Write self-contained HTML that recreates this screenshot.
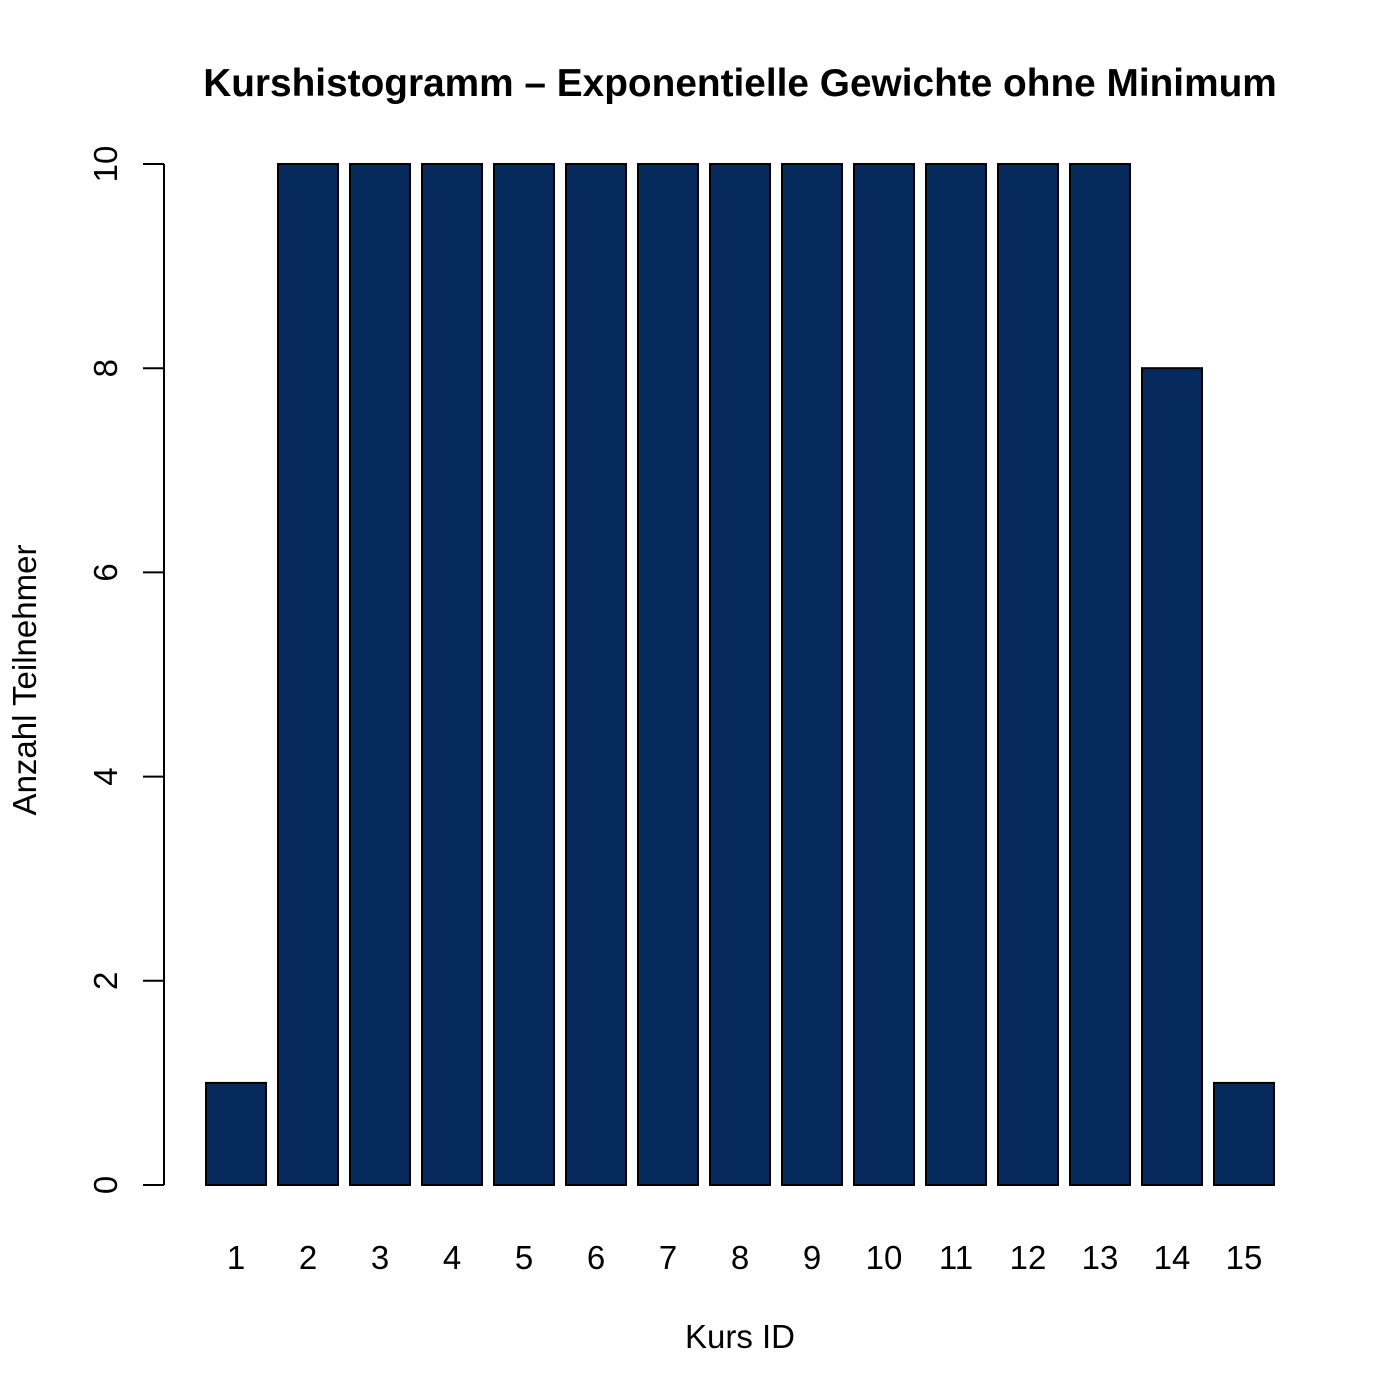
<!DOCTYPE html>
<html><head><meta charset="utf-8"><style>body{margin:0;background:#fff}svg{display:block}text{font-family:"Liberation Sans",sans-serif;fill:#000}</style></head>
<body>
<svg id="chart" width="1400" height="1400" viewBox="0 0 1400 1400">
<rect width="1400" height="1400" fill="#fff"/>
<text x="740" y="96" font-size="38.8" font-weight="bold" text-anchor="middle">Kurshistogramm – Exponentielle Gewichte ohne Minimum</text>
<text x="740" y="1348" font-size="33" text-anchor="middle">Kurs ID</text>
<text transform="translate(36,680) rotate(-90)" font-size="33" text-anchor="middle">Anzahl Teilnehmer</text>
<g id="bars"></g><g id="yaxis"></g><g id="xlabels"></g>
</svg>
<script>
const categories=["1","2","3","4","5","6","7","8","9","10","11","12","13","14","15"];
const values=[1,10,10,10,10,10,10,10,10,10,10,10,10,8,1];
const yTicks=[0,2,4,6,8,10];
const NS="http://www.w3.org/2000/svg";
function y(v){return 1185-v*102.1;}
function xLeft(i){return 206+72*i;}
const bw=60;
const bars=document.getElementById('bars');
values.forEach((v,i)=>{
 const r=document.createElementNS(NS,'rect');
 r.setAttribute('x',xLeft(i));r.setAttribute('y',y(v));r.setAttribute('width',bw);r.setAttribute('height',y(0)-y(v));
 r.setAttribute('fill','#062a5c');r.setAttribute('stroke','#000');r.setAttribute('stroke-width','2');
 
 
 bars.appendChild(r);
 const t=document.createElementNS(NS,'text');
 t.setAttribute('x',xLeft(i)+bw/2);t.setAttribute('y',1269);t.setAttribute('font-size','33');t.setAttribute('text-anchor','middle');
 t.textContent=categories[i];
 
 
 document.getElementById('xlabels').appendChild(t);
});
const ya=document.getElementById('yaxis');
const ln=document.createElementNS(NS,'line');
ln.setAttribute('x1',164);ln.setAttribute('x2',164);ln.setAttribute('y1',y(yTicks[yTicks.length-1]));ln.setAttribute('y2',y(yTicks[0]));
ln.setAttribute('stroke','#000');ln.setAttribute('stroke-width','2');


ya.appendChild(ln);
yTicks.forEach(v=>{
 const tk=document.createElementNS(NS,'line');
 tk.setAttribute('x1',143);tk.setAttribute('x2',164);tk.setAttribute('y1',y(v));tk.setAttribute('y2',y(v));
 tk.setAttribute('stroke','#000');tk.setAttribute('stroke-width','2');
 
 
 ya.appendChild(tk);
 const t=document.createElementNS(NS,'text');
 t.setAttribute('transform','translate(117,'+y(v)+') rotate(-90)');t.setAttribute('font-size','33');t.setAttribute('text-anchor','middle');
 t.textContent=v;
 
 
 ya.appendChild(t);
});
</script>
</body></html>
